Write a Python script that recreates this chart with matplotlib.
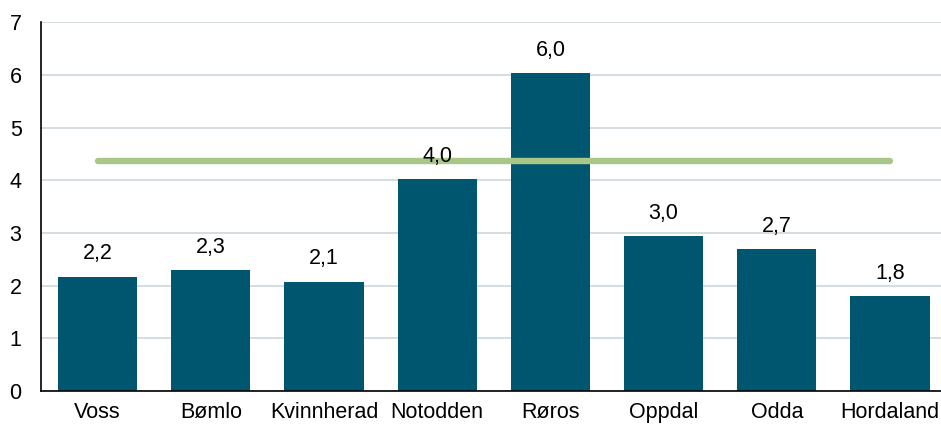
import matplotlib
matplotlib.use("Agg")
import matplotlib.pyplot as plt

plt.rcParams['font.family'] = ['Liberation Sans', 'DejaVu Sans']

categories = ["Voss", "Bømlo", "Kvinnherad", "Notodden", "Røros", "Oppdal", "Odda", "Hordaland"]
values = [2.17, 2.29, 2.07, 4.02, 6.03, 2.94, 2.69, 1.80]
labels = ["2,2", "2,3", "2,1", "4,0", "6,0", "3,0", "2,7", "1,8"]
reference_level = 4.37

BAR_COLOR = "#00566E"
LINE_COLOR = "#A9C787"
GRID_COLOR = "#CDD6DD"
FONT_SIZE = 15.5

fig = plt.figure(figsize=(9.41, 4.25), dpi=100)
ax = fig.add_axes([0.0436, 0.08, 0.9564, 0.868])

x = range(len(categories))
ax.bar(x, values, width=0.7, color=BAR_COLOR, zorder=2)

for i, (v, lab) in enumerate(zip(values, labels)):
    ax.annotate(lab, (i, v), xytext=(0, 9), textcoords="offset points",
                ha="center", va="bottom", fontsize=FONT_SIZE, color="black", zorder=4)

ax.plot([0, len(categories) - 1], [reference_level, reference_level],
        color=LINE_COLOR, linewidth=4.6, solid_capstyle="round", zorder=3)

ax.set_ylim(0, 7)
ax.set_xlim(-0.5, len(categories) - 0.55)
ax.set_yticks(range(0, 8))
ax.set_xticks(list(x))
ax.set_xticklabels(categories)
ax.tick_params(axis="both", length=0, labelsize=FONT_SIZE, pad=8)
ax.tick_params(axis="y", pad=14)
ax.yaxis.grid(True, color=GRID_COLOR, linewidth=1.2, zorder=0)
ax.set_axisbelow(True)

for side in ["top", "right"]:
    ax.spines[side].set_visible(False)
ax.spines["left"].set_linewidth(1.2)
ax.spines["bottom"].set_linewidth(1.2)

fig.savefig("out.png", dpi=100)
